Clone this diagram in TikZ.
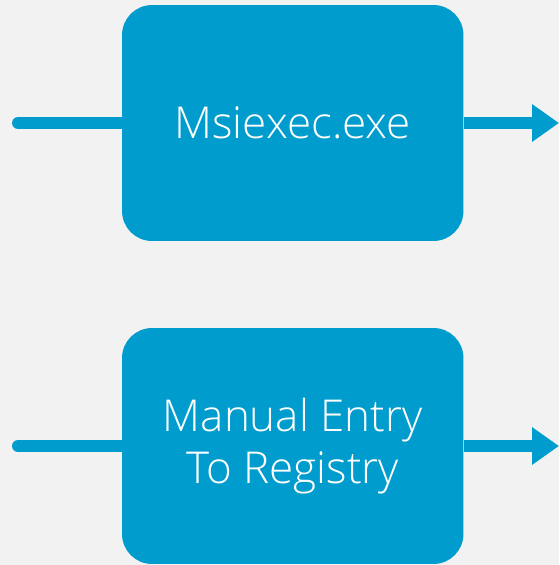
\documentclass[tikz,border=0pt]{standalone}
\usepackage{fontspec}
\setmainfont{Open Sans}[UprightFont=* Light]
\usepackage{tikz}
\usetikzlibrary{arrows.meta,positioning}
\definecolor{stepblue}{RGB}{0,156,205}
\definecolor{pagegrey}{RGB}{242,242,242}

\begin{document}
\begin{tikzpicture}[x=0.02cm, y=-0.02cm,
        stage/.style={rectangle, fill=stepblue, rounded corners=0.6cm, minimum width=6.83cm, minimum height=4.72cm, align=center, text=white, font=\fontsize{25}{29.5}\selectfont, inner sep=0pt},
        feedin/.style={draw=stepblue, line width=0.24cm, line cap=round},
        feedout/.style={draw=stepblue, line width=0.24cm, -{Triangle[length=0.54cm, width=0.72cm]}}
      ]
      \fill[pagegrey] (0,0) rectangle (559,565);
      \useasboundingbox (0,0) rectangle (559,565);

      \node[stage] (msi) at (292.75,123) {Msiexec.exe};
      \node[stage] (manual) at (292.75,446) {Manual Entry\\To Registry};

      \coordinate (msiin) at (18,123);
      \coordinate (msiout) at (559,123);
      \coordinate (manualin) at (18,446);
      \coordinate (manualout) at (559,446);

      \draw[feedin] (msiin) -- (msi.west);
      \draw[feedout] (msi.east) -- (msiout);
      \draw[feedin] (manualin) -- (manual.west);
      \draw[feedout] (manual.east) -- (manualout);
    \end{tikzpicture}
\end{document}
